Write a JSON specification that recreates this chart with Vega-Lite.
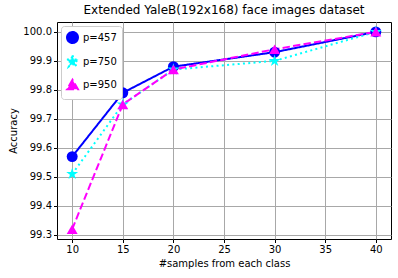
{
  "$schema": "https://vega.github.io/schema/vega-lite/v6.json",
  "width": 334,
  "height": 217,
  "autosize": "none",
  "padding": {"left": 57, "top": 22, "right": 7, "bottom": 39},
  "background": "white",
  "title": {"text": "Extended YaleB(192x168) face images dataset", "font": "DejaVu Sans", "fontSize": 12, "fontWeight": "normal", "color": "black", "offset": 5},
  "config": {
    "view": {"stroke": "black", "strokeWidth": 1},
    "axis": {"grid": true, "labelFont": "DejaVu Sans", "titleFont": "DejaVu Sans", "labelFontSize": 10, "titleFontSize": 10, "titleFontWeight": "normal", "labelColor": "black", "titleColor": "black", "gridColor": "#a8a8a8", "gridWidth": 1, "gridOpacity": 1, "domain": false, "tickColor": "black", "tickSize": 3.5}
  },
  "data": {"values": [
    {"n": 10, "acc": 99.57, "p": "p=457"},
    {"n": 15, "acc": 99.79, "p": "p=457"},
    {"n": 20, "acc": 99.88, "p": "p=457"},
    {"n": 30, "acc": 99.93, "p": "p=457"},
    {"n": 40, "acc": 100.0, "p": "p=457"},
    {"n": 10, "acc": 99.51, "p": "p=750"},
    {"n": 15, "acc": 99.75, "p": "p=750"},
    {"n": 20, "acc": 99.87, "p": "p=750"},
    {"n": 30, "acc": 99.90, "p": "p=750"},
    {"n": 40, "acc": 100.0, "p": "p=750"},
    {"n": 10, "acc": 99.32, "p": "p=950"},
    {"n": 15, "acc": 99.75, "p": "p=950"},
    {"n": 20, "acc": 99.87, "p": "p=950"},
    {"n": 30, "acc": 99.94, "p": "p=950"},
    {"n": 40, "acc": 100.0, "p": "p=950"}
  ]},
  "encoding": {
    "x": {"field": "n", "type": "quantitative", "scale": {"domain": [8.5, 41.5], "nice": false, "zero": false}, "axis": {"values": [10, 15, 20, 25, 30, 35, 40], "title": "#samples from each class", "grid": true}},
    "y": {"field": "acc", "type": "quantitative", "scale": {"domain": [99.286, 100.034], "nice": false, "zero": false}, "axis": {"values": [99.3, 99.4, 99.5, 99.6, 99.7, 99.8, 99.9, 100.0], "format": ".1f", "title": "Accuracy", "grid": true}},
    "color": {"field": "p", "type": "nominal", "scale": {"domain": ["p=457", "p=750", "p=950"], "range": ["#0000ff", "#00ffff", "#ff00ff"]}, "legend": {"title": null, "orient": "top-left", "offset": 4, "labelFont": "DejaVu Sans", "labelFontSize": 10, "labelColor": "black", "fillColor": "white", "strokeColor": "#cccccc", "padding": 5, "cornerRadius": 3, "symbolSize": 120, "rowPadding": 4, "symbolStrokeWidth": 2}}
  },
  "layer": [
    {
      "mark": {"type": "line", "strokeWidth": 2},
      "encoding": {
        "strokeDash": {"field": "p", "type": "nominal", "scale": {"domain": ["p=457", "p=750", "p=950"], "range": [[1, 0], [2, 3.3], [7.4, 3.2]]}, "legend": null}
      }
    },
    {
      "mark": {"type": "point", "filled": true, "opacity": 1, "size": 120},
      "encoding": {
        "shape": {"field": "p", "type": "nominal", "scale": {"domain": ["p=457", "p=750", "p=950"], "range": ["circle", "M0,-1.15L0.25,-0.36L1.09,-0.36L0.41,0.14L0.68,0.93L0,0.44L-0.68,0.93L-0.41,0.14L-1.09,-0.36L-0.25,-0.36Z", "triangle-up"]}}
      }
    }
  ]
}
